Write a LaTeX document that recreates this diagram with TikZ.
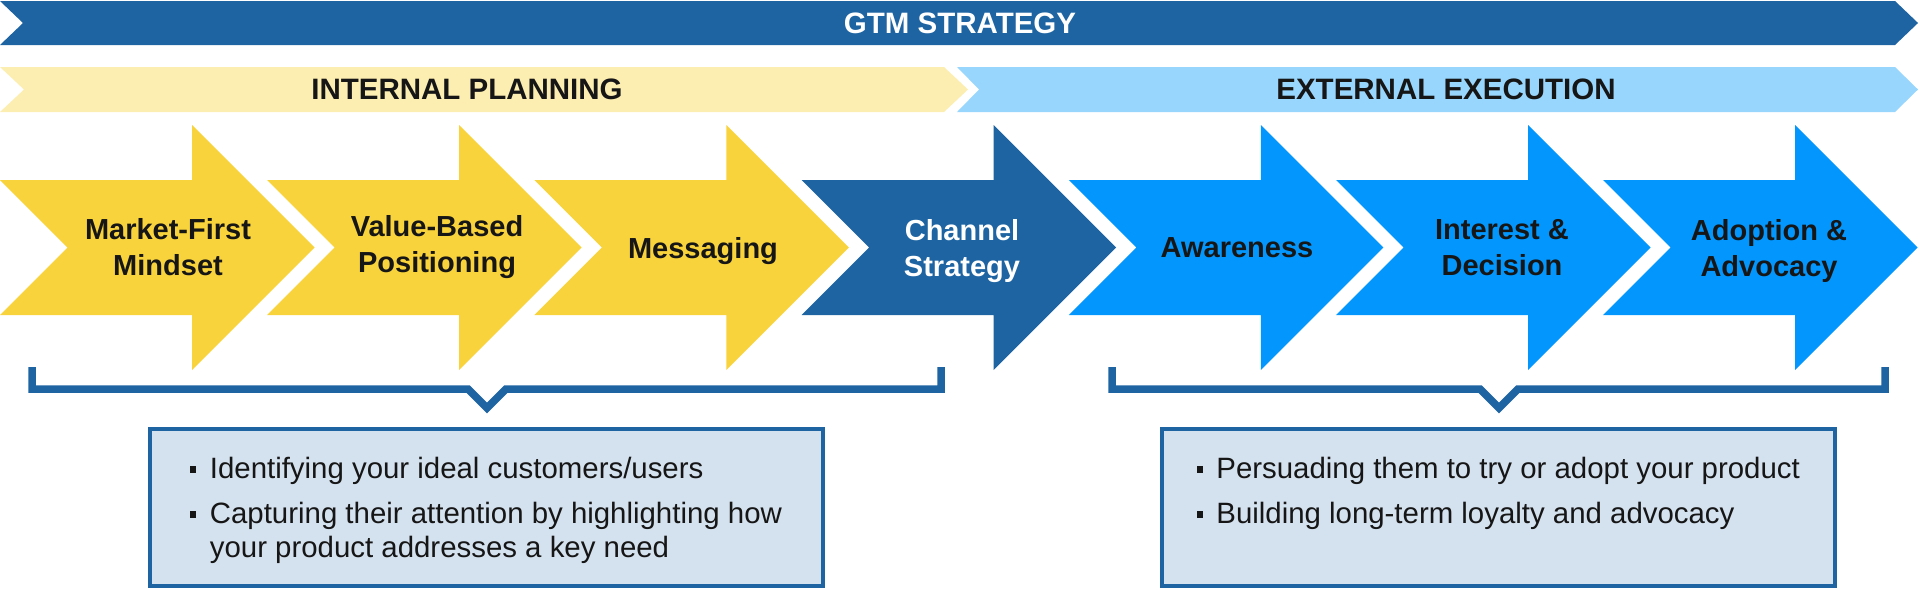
\documentclass[tikz,border=0pt]{standalone}
\usepackage{fontspec}
\setmainfont{Liberation Sans}
\definecolor{dblue}{HTML}{1E64A2}
\definecolor{ylw}{HTML}{F9D33C}
\definecolor{bblue}{HTML}{0397FE}
\definecolor{lylw}{HTML}{FCEDB1}
\definecolor{lblue}{HTML}{99D6FD}
\definecolor{boxfill}{HTML}{D4E1EE}
\definecolor{txtblack}{HTML}{161616}
\newcommand{\gtmarrow}[2]{%
  \fill[#2] (#1,180) -- ++(192,0) -- ++(0,-55) -- ++(122.5,122.5) -- ++(-122.5,122.5)
    -- ++(0,-55) -- ++(-192,0) -- ++(67.5,-67.5) -- cycle;}
\newcommand{\nodp}[1]{\raisebox{0pt}[\height][0pt]{#1}}
\begin{document}
\begin{tikzpicture}[x=0.5pt,y=-0.5pt,
  lbl/.style={font=\bfseries\fontsize{14.5}{18}\selectfont, align=center, inner sep=0pt, text=txtblack},
  bandlbl/.style={font=\bfseries\fontsize{14.75}{17}\selectfont, inner sep=0pt},
  btxt/.style={font=\fontsize{14.7}{16.5}\selectfont, inner sep=0pt, anchor=base west, text=txtblack},
  bul/.style={fill=txtblack, minimum size=3.3pt, inner sep=0pt},
  brk/.style={draw=dblue, line width=3.75pt, line join=miter},
  tbox/.style={draw=dblue, fill=boxfill, line width=2pt}]
\useasboundingbox (0,0) rectangle (1920,589);

% top banner
\fill[dblue] (0,1) -- (1895,1) -- (1918,23) -- (1895,45) -- (0,45) -- (23,23) -- cycle;
\node[bandlbl, text=white] (gtm) at (960,23) {GTM STRATEGY};

% second row bands
\fill[lylw] (0,67) -- (944,67) -- (968,89.5) -- (944,112) -- (0,112) -- (24,89.5) -- cycle;
\fill[lblue] (957,67) -- (1895,67) -- (1918,89.5) -- (1895,112) -- (957,112) -- (979,89.5) -- cycle;
\node[bandlbl, text=txtblack] (ip) at (467,89) {INTERNAL PLANNING};
\node[bandlbl, text=txtblack] (ee) at (1446,89) {EXTERNAL EXECUTION};

% process arrows
\gtmarrow{0}{ylw}
\gtmarrow{267.2}{ylw}
\gtmarrow{534.4}{ylw}
\gtmarrow{801.6}{dblue}
\gtmarrow{1068.8}{bblue}
\gtmarrow{1336}{bblue}
\gtmarrow{1603.2}{bblue}
\node[lbl] (a1) at (168,247.5) {Market-First\\Mindset};
\node[lbl] (a2) at (437,247.5) {Value-Based\\Positioning};
\node[lbl] (a3) at (703,247.5) {\nodp{Messaging}};
\node[lbl, text=white] (a4) at (962,247.5) {Channel\\\nodp{Strategy}};
\node[lbl] (a5) at (1237,247.5) {Awareness};
\node[lbl] (a6) at (1502,247.5) {Interest \&\\Decision};
\node[lbl] (a7) at (1769,247.5) {Adoption \&\\\nodp{Advocacy}};

% brackets
\draw[brk] (32,367) -- (32,389) -- (468,389) -- (487,408) -- (506,389) -- (941,389) -- (941,367);
\draw[brk] (1112,367) -- (1112,389) -- (1480,389) -- (1499,408) -- (1518,389) -- (1885,389) -- (1885,367);

% text boxes
\draw[tbox] (150,429) rectangle (823,586);
\draw[tbox] (1162,429) rectangle (1835,586);

\node[bul] (lb1) at (193,469.5) {};
\node[btxt] (lt1) at (209.5,478.5) {Identifying your ideal customers/users};
\node[bul] (lb2) at (193,514.5) {};
\node[btxt] (lt2) at (209.5,523) {Capturing their attention by highlighting how};
\node[btxt] (lt3) at (209.5,557) {your product addresses a key need};

\node[bul] (rb1) at (1200,469.5) {};
\node[btxt] (rt1) at (1216,478.5) {Persuading them to try or adopt your product};
\node[bul] (rb2) at (1200,514.5) {};
\node[btxt] (rt2) at (1216,523) {Building long-term loyalty and advocacy};
\end{tikzpicture}
\end{document}
